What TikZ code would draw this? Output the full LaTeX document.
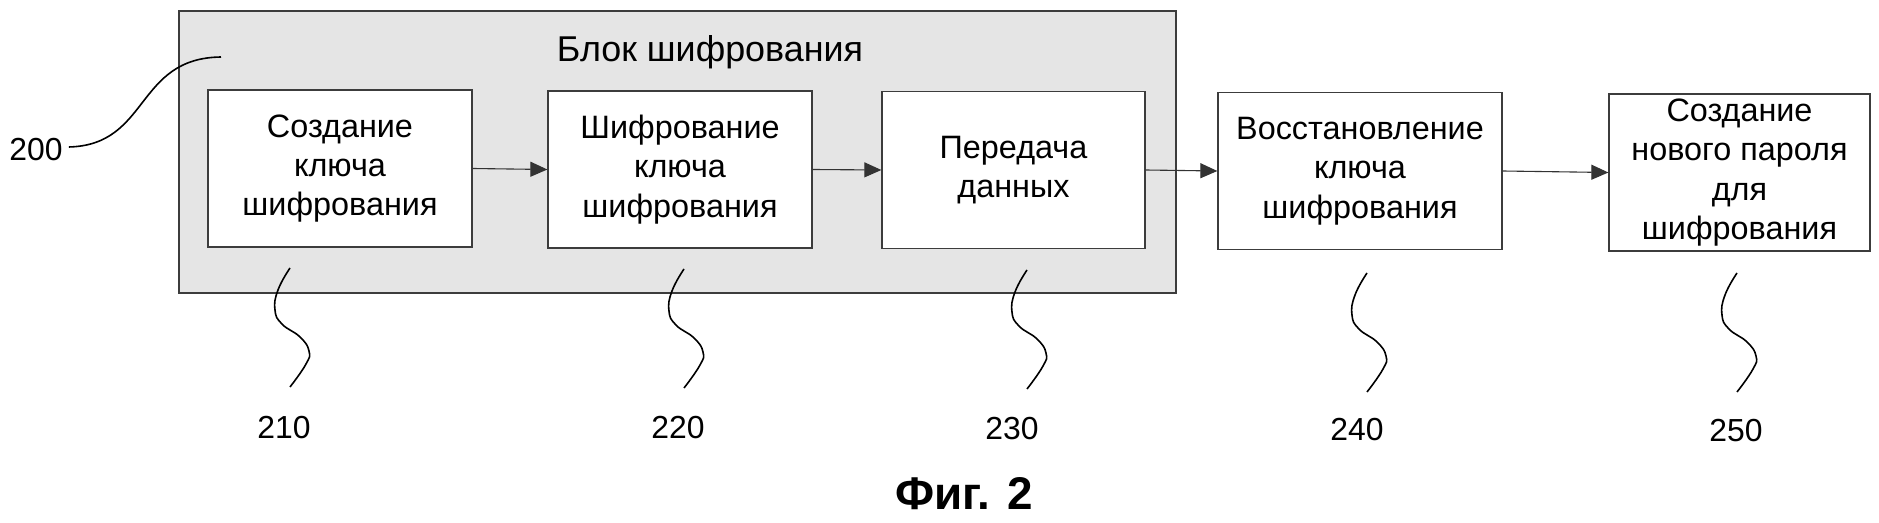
\documentclass[tikz,border=0pt]{standalone}
\usepackage{fontspec}
\setmainfont{Liberation Sans}
\usetikzlibrary{arrows.meta}
\definecolor{panel}{RGB}{229,229,229}
\definecolor{edge}{RGB}{60,60,60}
\begin{document}
\begin{tikzpicture}[x=1bp,y=-1bp,
  blk/.style={draw=edge, line width=1.3bp, fill=white, minimum width=#1, minimum height=157bp,
    inner sep=0pt, align=center, font=\fontsize{32.5}{39.5}\selectfont},
  flow/.style={draw=black!80, line width=1.1bp, -{Triangle[length=17bp,width=15bp]}},
  lead/.style={draw=black, line width=1.6bp},
  lbl/.style={font=\fontsize{32}{38}\selectfont, inner sep=0pt}
]
\useasboundingbox (0,0) rectangle (1879,523);

% outer panel
\node[draw=edge, line width=1.5bp, fill=panel, minimum width=997bp, minimum height=282bp, inner sep=0pt]
  (panel) at (677.5,152) {};
\node[font=\fontsize{36}{40}\selectfont, anchor=base] (title) at (710,62) {Блок шифрования};

% blocks
\node[blk=264bp] (b210) at (340,168.5) {Создание\\ключа\\шифрования};
\node[blk=264bp] (b220) at (680,169.5) {Шифрование\\ключа\\шифрования};
\node[blk=263bp] (b230) at (1013.5,170) {Передача\\данных};
\node[blk=284bp] (b240) at (1360,171) {Восстановление\\ключа\\шифрования};
\node[blk=261bp] (b250) at (1739.5,172.5) {Создание\\нового пароля\\для\\шифрования};

% flow arrows
\draw[flow] (b210.east) -- (b220.west);
\draw[flow] (b220.east) -- (b230.west);
\draw[flow] (b230.east) -- (b240.west);
\draw[flow] (b240.east) -- (b250.west);

% reference labels
\node[lbl] (l200) at (36,150) {200};
\coordinate (c200) at (221,57);
\draw[lead] (l200.east) ++(6,-3) .. controls (150,145) and (135,58) .. (c200);

\node[lbl] (l210) at (284,428) {210};
\node[lbl] (l220) at (678,428) {220};
\node[lbl] (l230) at (1012,429) {230};
\node[lbl] (l240) at (1357,430) {240};
\node[lbl] (l250) at (1736,431) {250};

\foreach \px/\py in {290/268, 684/269, 1027/270, 1367/273, 1737/273}{
  \draw[lead, shift={(\px,\py)}] plot[smooth, tension=0.8] coordinates
    {(0,0) (-12,22) (-15,42) (-8,56) (10,69) (19,83) (16,96) (0,119)};
}

\node[font=\fontsize{46}{50}\selectfont\bfseries] (fig) at (964,494) {Фиг. 2};
\end{tikzpicture}
\end{document}
